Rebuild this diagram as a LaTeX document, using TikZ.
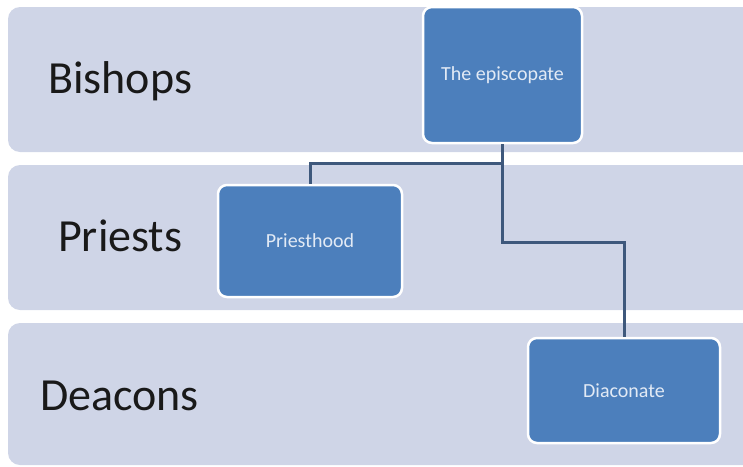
\documentclass[tikz,border=0pt]{standalone}
\usepackage{fontspec}
\setmainfont{Carlito}
\usepackage{xcolor}
\definecolor{bandfill}{RGB}{207,213,231}
\definecolor{officefill}{RGB}{76,127,188}
\definecolor{officetext}{RGB}{226,234,245}
\definecolor{linkcol}{RGB}{62,88,124}

\begin{document}
\begin{tikzpicture}[x=1pt, y=-1pt,
    band/.style = {shape=rectangle, rounded corners=12pt,
      fill=bandfill, inner sep=0pt},
    rank/.style = {anchor=base west, inner sep=0pt,
      text=black!90, font=\fontsize{46}{50}\selectfont},
    office/.style = {shape=rectangle, rounded corners=9pt,
      draw=white, line width=2.5pt, fill=officefill, inner sep=0pt,
      text=officetext, font=\fontsize{20}{24}\selectfont},
    link/.style = {draw=linkcol, line width=3pt}]
    \useasboundingbox (0,0) rectangle (743,466);
    \clip (0,0) rectangle (743,466);
    % bands
    \node[band, minimum width=760pt, minimum height=145pt] (bandB) at (388,79.5) {};
    \node[band, minimum width=760pt, minimum height=145pt] (bandP) at (388,237.5) {};
    \node[band, minimum width=760pt, minimum height=142pt] (bandD) at (388,394) {};
    \node[rank] (lblB) at (48,93) {Bishops};
    \node[rank] (lblP) at (58,251) {Priests};
    \node[rank] (lblD) at (40,410) {Deacons};
    % offices
    \node[office, minimum width=159pt, minimum height=136pt] (ep) at (502.5,75) {The episcopate};
    \node[office, minimum width=184pt, minimum height=112pt] (pr) at (310,241) {Priesthood};
    \node[office, minimum width=192pt, minimum height=105pt] (di) at (624,390.5) {Diaconate};
    % links
    \coordinate (forkP) at (502.5,163);
    \coordinate (stepD) at (624,242);
    \draw[link] (ep.south) -- (forkP) -| (pr.north);
    \draw[link] (ep.south) |- (stepD) -- (di.north);
\end{tikzpicture}
\end{document}
